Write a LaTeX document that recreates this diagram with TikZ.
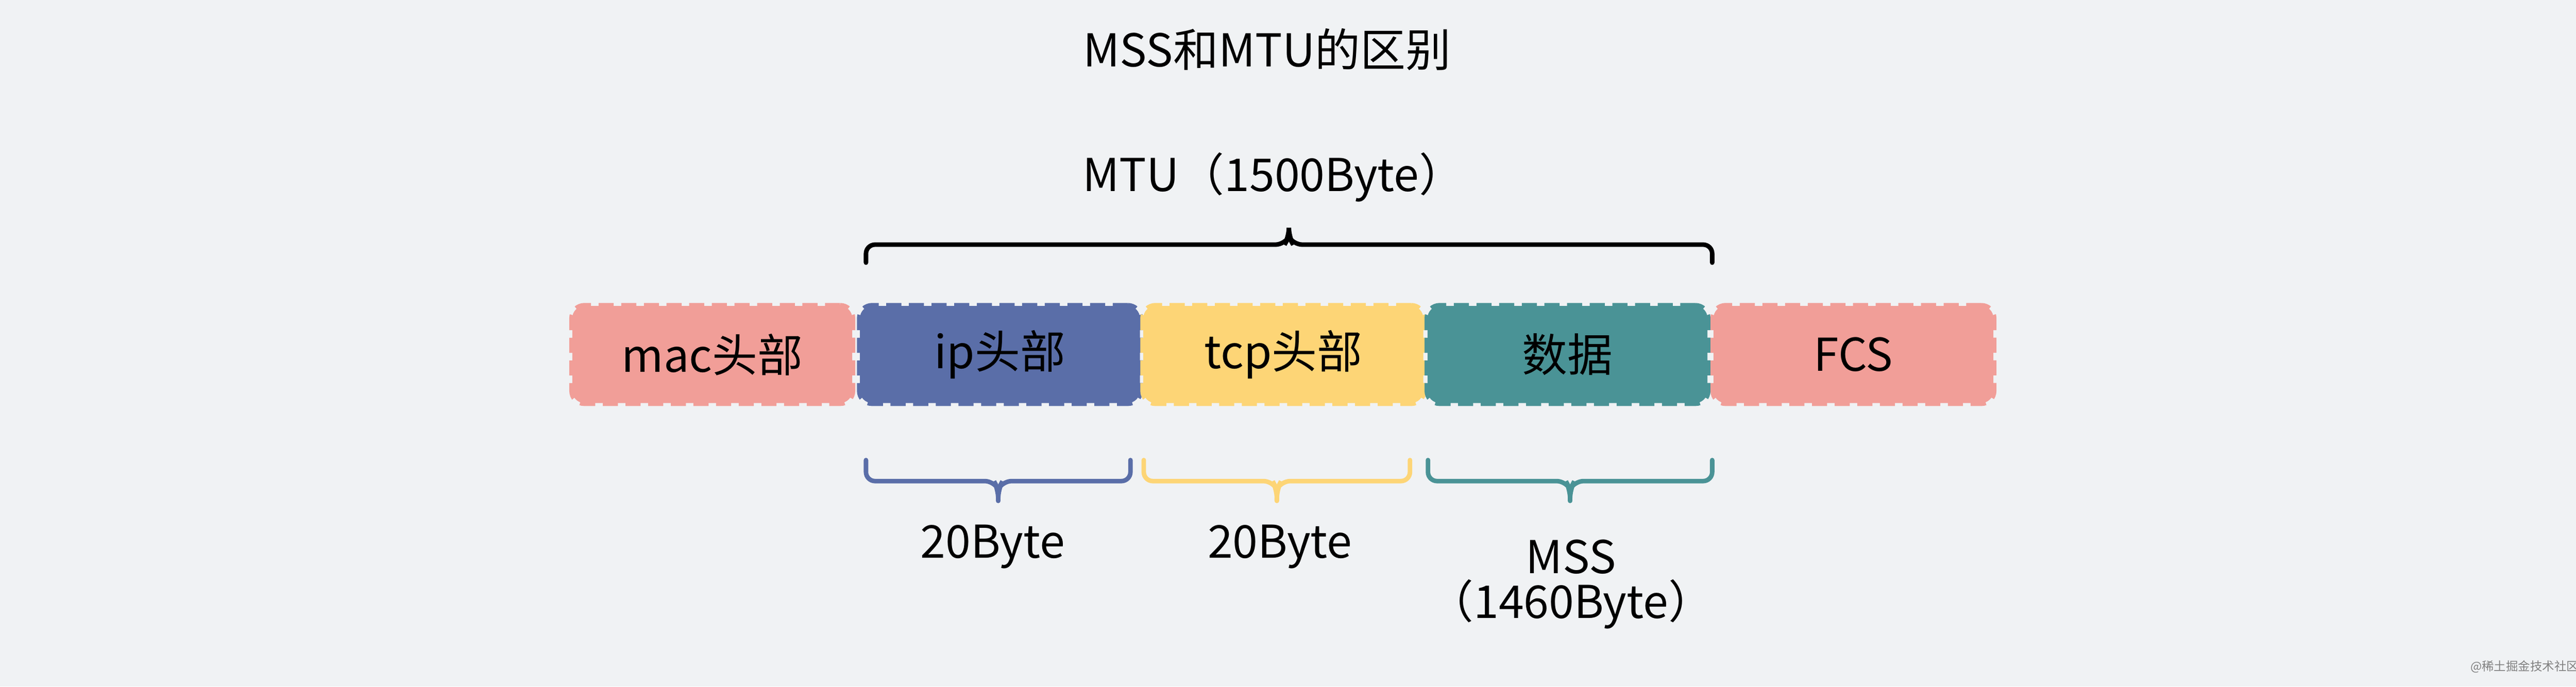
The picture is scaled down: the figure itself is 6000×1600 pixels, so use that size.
\documentclass[tikz,border=0pt]{standalone}
\usepackage{fontspec}
\setmainfont{Noto Sans CJK SC}
\begin{document}
\begin{tikzpicture}[x=0.01cm,y=-0.01cm,
  box/.style={draw=#1,fill=#1,dashed,dash pattern=on 10pt off 5pt,line width=4pt,rounded corners=8pt,minimum width=652*0.01cm,minimum height=226*0.01cm,inner sep=0pt,font=\fontsize{30}{36}\selectfont},
  brace/.style={line width=3pt,rounded corners=6pt,line cap=round},
  lbl/.style={font=\fontsize{30}{36}\selectfont}]
\fill[fill={rgb,255:red,240;green,242;blue,244}] (0,0) rectangle (6000,1600);
\useasboundingbox (0,0) rectangle (6000,1600);
\definecolor{cmac}{HTML}{F19E98}
\definecolor{cip}{HTML}{5A6EA8}
\definecolor{ctcp}{HTML}{FDD576}
\definecolor{cdata}{HTML}{4A9396}
\node[lbl] (title) at (2951,115) {MSS和MTU的区别};
\node[lbl] (mtu) at (2966,413) {MTU（1500Byte）};
\node[box=cmac] (mac) at (1659,826) {mac头部};
\node[box=cip] (ip) at (2329,826) {ip头部};
\node[box=ctcp] (tcp) at (2989,826) {tcp头部};
\node[box=cdata] (data) at (3651,826) {数据};
\node[box=cmac] (fcs) at (4317,826) {FCS};
% top brace
\draw[brace] (2017,612) -- (2017,570) -- (2992,570) -- (3002,552) -- (3002,536);
\draw[brace] (3002,536) -- (3002,552) -- (3012,570) -- (3988,570) -- (3988,612);
% bottom braces
\draw[brace,cip] (2017,1072) -- (2017,1121) -- (2315,1121) -- (2325,1140) -- (2325,1167);
\draw[brace,cip] (2325,1167) -- (2325,1140) -- (2335,1121) -- (2633,1121) -- (2633,1072);
\draw[brace,ctcp] (2664,1072) -- (2664,1121) -- (2964,1121) -- (2974,1140) -- (2974,1167);
\draw[brace,ctcp] (2974,1167) -- (2974,1140) -- (2984,1121) -- (3284,1121) -- (3284,1072);
\draw[brace,cdata] (3326,1072) -- (3326,1121) -- (3647,1121) -- (3657,1140) -- (3657,1167);
\draw[brace,cdata] (3657,1167) -- (3657,1140) -- (3667,1121) -- (3988,1121) -- (3988,1072);
\node[lbl] (l1) at (2312,1274) {20Byte};
\node[lbl] (l2) at (2981,1274) {20Byte};
\node[lbl] (l3) at (3659,1298) {MSS};
\node[lbl] (l4) at (3659,1408) {（1460Byte）};
\node[font=\fontsize{8}{10}\selectfont,text=gray] (wm) at (5880,1553) {@稀土掘金技术社区};
\end{tikzpicture}
\end{document}
